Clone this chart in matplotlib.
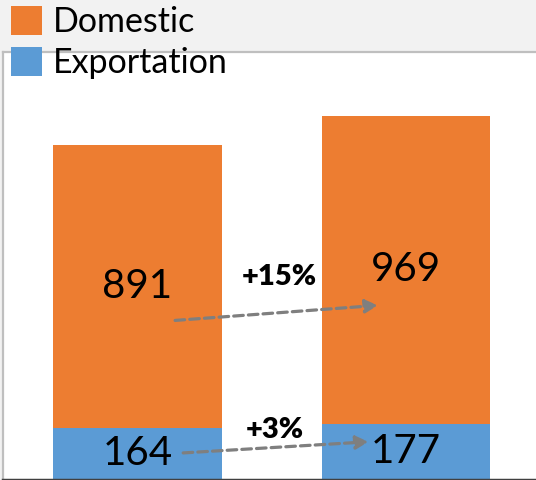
import matplotlib
matplotlib.use("Agg")
import matplotlib.pyplot as plt
from matplotlib.patches import Patch

# Data
groups = [0, 1]
series_names = ["Domestic", "Exportation"]
exportation = [164, 177]
domestic = [891, 969]
growth_labels = ["+15%", "+3%"]  # Domestic, Exportation

ORANGE = "#ED7D31"
BLUE = "#5B9BD5"
ARROW = "#7F7F7F"
FONT = ["Lato", "DejaVu Sans"]

W, H, DPI = 536, 480, 100
fig = plt.figure(figsize=(W / DPI, H / DPI), dpi=DPI, facecolor="#F2F2F2")
# plot area runs past the right edge of the canvas
ax_w_px = W + 10
ax = fig.add_axes([3 / W, 0, ax_w_px / W, (H - 52) / H])
ax.set_facecolor("white")

bar_w = 0.626
ax.bar(groups, exportation, width=bar_w, color=BLUE, zorder=2)
ax.bar(groups, domestic, width=bar_w, bottom=exportation, color=ORANGE, zorder=2)

px_per_unit = 268.5
ax.set_xlim(-0.501, -0.501 + ax_w_px / px_per_unit)
ax.set_ylim(0, 1348)
ax.set_xticks([])
ax.set_yticks([])

for side in ("top", "left"):
    ax.spines[side].set_color("#BFBFBF")
    ax.spines[side].set_linewidth(1.6)
ax.spines["right"].set_visible(False)
ax.spines["bottom"].set_color("#404040")
ax.spines["bottom"].set_linewidth(2.5)

# Value labels centred in each segment
for x, e, d in zip(groups, exportation, domestic):
    ax.text(x, e / 2, f"{e}", ha="center", va="center", fontsize=29,
            family=FONT, color="black", zorder=4)
    ax.text(x, e + d / 2, f"{d}", ha="center", va="center", fontsize=29,
            family=FONT, color="black", zorder=4)

# Growth arrows between the two bars
arrow_kw = dict(arrowstyle="-|>,head_length=0.75,head_width=0.4", color=ARROW,
                lw=2.3, linestyle=(0, (3, 1.6)), shrinkA=0, shrinkB=0)
ax.annotate("", xy=(groups[1] - 0.105, exportation[1] + 0.385 * domestic[1]),
            xytext=(groups[0] + 0.14, exportation[0] + 0.38 * domestic[0]),
            arrowprops=arrow_kw, zorder=3)
ax.annotate("", xy=(groups[1] - 0.14, 0.68 * exportation[1]),
            xytext=(groups[0] + 0.17, 0.52 * exportation[0]),
            arrowprops=arrow_kw, zorder=3)

ax.text(0.527, 639, growth_labels[0], ha="center", va="center", fontsize=21,
        fontweight="heavy", family=FONT, zorder=4)
ax.text(0.512, 157, growth_labels[1], ha="center", va="center", fontsize=21,
        fontweight="heavy", family=FONT, zorder=4)

# Legend in the band above the plot
handles = [Patch(facecolor=ORANGE, edgecolor="none"),
           Patch(facecolor=BLUE, edgecolor="none")]
leg = fig.legend(handles, series_names, loc="upper left",
                 bbox_to_anchor=(11 / W, 1 - 6 / H), frameon=False,
                 prop={"family": FONT, "size": 24.5},
                 handlelength=0.92, handleheight=0.92, handletextpad=0.3,
                 labelspacing=0.27, borderpad=0, borderaxespad=0)
leg.set_zorder(10)

fig.savefig("out.png", dpi=DPI, facecolor=fig.get_facecolor())
